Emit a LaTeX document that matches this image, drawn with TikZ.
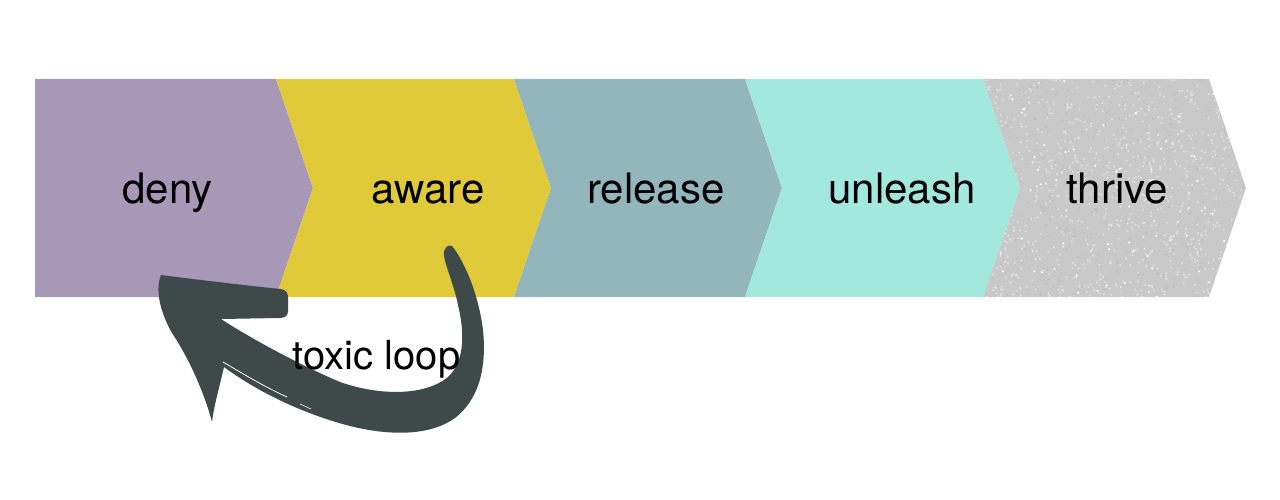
\documentclass[tikz,border=0pt]{standalone}
\usepackage{fontspec}
\setmainfont{TeX Gyre Heros}
\usetikzlibrary{calc}
\definecolor{denyc}{HTML}{A898B8}
\definecolor{awarec}{HTML}{E0CA3A}
\definecolor{releasec}{HTML}{93B6BD}
\definecolor{unleashc}{HTML}{A2E8DC}
\definecolor{thrivec}{HTML}{C9C9C9}
\definecolor{arrowc}{HTML}{3D4A49}
\tikzset{
  lbl/.style={font=\fontsize{42}{50}\selectfont, text=black, inner sep=0pt, anchor=base},
  tox/.style={font=\fontsize{40}{48}\selectfont, inner sep=0pt, anchor=base},
}
\begin{document}
\begin{tikzpicture}[x=1pt,y=-1pt]
\useasboundingbox (0,0) rectangle (1280,500);
\fill[white] (0,0) rectangle (1280,500);
% chevrons
\fill[denyc] (35,79) -- (276,79) -- (313,188) -- (276,297) -- (35,297) -- cycle;
\fill[awarec] (276,79) -- (514,79) -- (551,188) -- (514,297) -- (276,297) -- (313,188) -- cycle;
\fill[releasec] (514,79) -- (745,79) -- (782,188) -- (745,297) -- (514,297) -- (551,188) -- cycle;
\fill[unleashc] (745,79) -- (983,79) -- (1020,188) -- (983,297) -- (745,297) -- (782,188) -- cycle;
\begin{scope}
  \clip (983,79) -- (1209,79) -- (1246,188) -- (1209,297) -- (983,297) -- (1020,188) -- cycle;
  \fill[thrivec] (980,75) rectangle (1250,300);
  \pgfmathsetseed{42}
  \foreach \i in {1,...,900}{
    \pgfmathsetmacro\px{983+rnd*265}
    \pgfmathsetmacro\py{79+rnd*218}
    \fill[white,opacity=0.45] (\px,\py) circle (1.1pt);
  }
  \foreach \i in {1,...,450}{
    \pgfmathsetmacro\px{983+rnd*265}
    \pgfmathsetmacro\py{79+rnd*218}
    \fill[black!35,opacity=0.3] (\px,\py) circle (1.0pt);
  }
  \foreach \i in {1,...,70}{
    \pgfmathsetmacro\px{983+rnd*265}
    \pgfmathsetmacro\py{79+rnd*218}
    \fill[white,opacity=0.9] (\px,\py) circle (1.2pt);
  }
\end{scope}
% labels
\node[lbl] (deny) at (167.5,204) {deny};
\node[lbl] (aware) at (428,204) {aware};
\node[lbl] (release) at (656,204) {release};
\node[lbl] (unleash) at (902,204) {unleash};
\node[lbl] (thrive) at (1117,204) {thrive};
% toxic loop arrow
\fill[arrowc] (161,275)
 .. controls (200,280) and (250,286) .. (281,289)
 .. controls (287,290) and (288,294) .. (288,298)
 -- (288,311)
 .. controls (288,316) and (285,318) .. (279,318)
 -- (221,319)
 .. controls (250,338) and (300,365) .. (340,382)
 .. controls (380,396) and (425,396) .. (448,377)
 .. controls (466,360) and (464,330) .. (458,305)
 .. controls (454,285) and (446,268) .. (444,256)
 .. controls (443,248) and (448,244) .. (452,246)
 .. controls (462,258) and (478,290) .. (483,330)
 .. controls (487,370) and (478,400) .. (455,418)
 .. controls (430,436) and (390,436) .. (350,426)
 .. controls (300,413) and (255,390) .. (224,367)
 .. controls (220,385) and (214,405) .. (212,422)
 .. controls (205,395) and (190,360) .. (172,333)
 .. controls (160,312) and (155,290) .. (161,275)
 -- cycle;
\draw[white,line width=0.8pt,line cap=round] (223,362) .. controls (245,375) and (265,387) .. (287,397);
\draw[white,line width=0.6pt,line cap=round] (300,404) -- (311,409);
\node[tox,text=black] (toxic) at (376.5,369.5) {toxic loop};
\end{tikzpicture}
\end{document}
